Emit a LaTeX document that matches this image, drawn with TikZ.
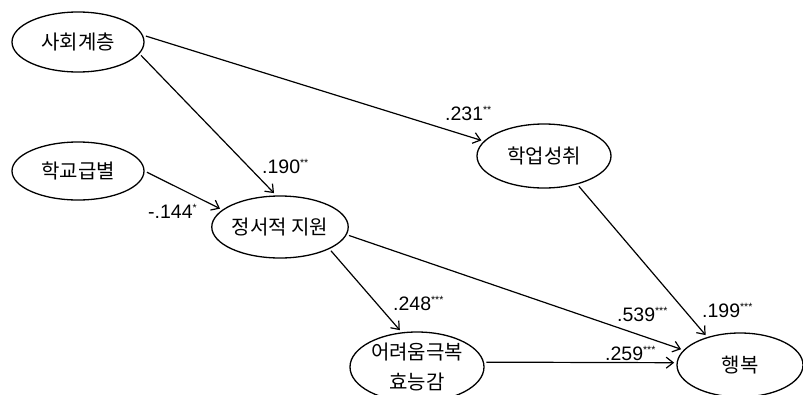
\documentclass[tikz,border=0pt]{standalone}
\usepackage{fontspec}
\setmainfont{Liberation Sans}
\newfontfamily\krfont{Noto Sans CJK KR}
\usetikzlibrary{shapes.geometric,arrows.meta}
\newcommand\sig[1]{\raisebox{7pt}{\fontsize{10.5}{10.5}\selectfont #1}}
\begin{document}
\begin{tikzpicture}[x=1pt,y=-1pt,
  var/.style={ellipse,draw,line width=1.3pt,inner sep=0pt,outer sep=3pt,
    font=\krfont\fontsize{20}{30}\selectfont,align=center},
  arr/.style={line width=1.2pt,-{Straight Barb[length=7pt,width=11pt,line width=1.2pt]}},
  lab/.style={anchor=base west,inner sep=0pt,font=\fontsize{19.5}{22}\selectfont}]
\useasboundingbox (0,0) rectangle (803,394);
\clip (0,0) rectangle (803,394);
\node[var,minimum width=132pt,minimum height=60pt] (A) at (78,42) {사회계층};
\node[var,minimum width=132pt,minimum height=58pt] (B) at (78,171) {학교급별};
\node[var,minimum width=136pt,minimum height=62pt] (C) at (280,227) {정서적 지원};
\node[var,minimum width=134pt,minimum height=64pt] (D) at (544,156) {학업성취};
\node[var,minimum width=134pt,minimum height=70pt] (E) at (417,367) {어려움극복\\효능감};
\node[var,minimum width=126pt,minimum height=64pt] (F) at (740,365) {행복};
\draw[arr] (A.-12.6) -- (C.100);
\draw[arr] (A.5) -- (D.166);
\draw[arr] (B.-1.7) -- (C.163);
\draw[arr] (C.-25.6) -- (E.115);
\draw[arr] (C.-7.3) -- (F.165);
\draw[arr] (D.-41.6) -- (F.139);
\draw[arr] (E.4) -- (F.178);
\node[lab] (l1) at (262,173) {.190\sig{**}};
\node[lab] (l2) at (445,120) {.231\sig{**}};
\node[lab] (l3) at (148,218) {-.144\sig{*}};
\node[lab] (l4) at (393,310) {.248\sig{***}};
\node[lab] (l5) at (617,321) {.539\sig{***}};
\node[lab] (l6) at (702,317) {.199\sig{***}};
\node[lab] (l7) at (605,360) {.259\sig{***}};
\end{tikzpicture}
\end{document}
